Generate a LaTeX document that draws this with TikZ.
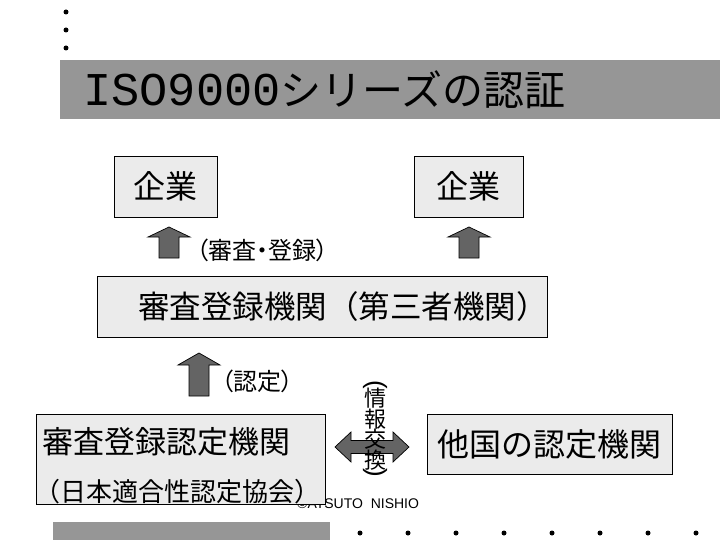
\documentclass[tikz,border=0pt]{standalone}
\usepackage{fontspec}
\setmainfont{Liberation Sans}
\newfontfamily\jp{Noto Sans CJK JP}
\newfontfamily\jpp[RawFeature=+palt]{Noto Sans CJK JP}
\newfontfamily\titlemono{Liberation Mono}
\newcommand\jpsize[1]{\jp\fontsize{#1}{#1}\selectfont}
\newcommand\jppsize[1]{\jpp\fontsize{#1}{#1}\selectfont}
\definecolor{titlegray}{RGB}{150,150,150}
\definecolor{boxgray}{RGB}{235,235,235}
\definecolor{arrowgray}{RGB}{100,100,100}
\tikzset{
  kikanbox/.style={draw, fill=boxgray, line width=0.8pt, inner sep=0pt},
  blockarrow/.style={draw, fill=arrowgray, line width=0.7pt, line join=miter},
  dot/.style={circle, fill=black, inner sep=0pt, minimum size=5pt},
  txt/.style={inner sep=0pt, anchor=west},
}
\begin{document}
\begin{tikzpicture}[x=1pt, y=-1pt]
\useasboundingbox (0,0) rectangle (720,540);

% title bar
\foreach \y in {12,30,48}
  \node[dot] (topdot\y) at (66,\y) {};
\fill[titlegray] (60,60) rectangle (720,119);
\node[txt] (title) at (83,90) {\titlemono\fontsize{47pt}{47pt}\selectfont ISO9000\jpsize{41pt}シリーズの認証};

% companies
\node[kikanbox, minimum width=103pt, minimum height=61pt, font=\jpsize{32pt}] (kigyoA) at (165.5,186.5) {企業};
\node[kikanbox, minimum width=109pt, minimum height=61pt, font=\jpsize{32pt}] (kigyoB) at (468.5,186.5) {企業};

\draw[blockarrow] (159,258) -- (159,237) -- (148,237) -- (169,227) -- (190,237) -- (179,237) -- (179,258) -- cycle;
\draw[blockarrow] (459,258) -- (459,237) -- (448,237) -- (469,227) -- (490,237) -- (479,237) -- (479,258) -- cycle;
\node[txt, font=\jppsize{24pt}] (shinsatoroku) at (196,250) {（審査・登録）};

% registrar
\node[kikanbox, minimum width=450pt, minimum height=61pt] (shinsa) at (322,306.5) {};
\node[txt, font=\jpsize{31.5pt}] (shinsaname) at (138,307) {審査登録機関（第三者機関）};

\draw[blockarrow] (189,396) -- (189,365) -- (178,365) -- (199,353) -- (220,365) -- (209,365) -- (209,396) -- cycle;
\node[txt, font=\jppsize{24pt}] (nintei) at (221,381) {（認定）};

% accreditation bodies
\node[txt, font=\fontsize{14pt}{14pt}\selectfont] (copy) at (297,504) {©ATSUTO\ \ NISHIO};
\node[kikanbox, minimum width=289pt, minimum height=90pt] (jab) at (180.5,459) {};
\node[txt, font=\jpsize{31pt}] (jabname) at (42,442) {審査登録認定機関};
\node[txt, font=\jpsize{26pt}] (jabsub) at (34,492) {（日本適合性認定協会）};

\node[kikanbox, minimum width=245pt, minimum height=60pt, font=\jpsize{32pt}] (takoku) at (549.5,444) {他国の認定機関};

\draw[blockarrow] (335,447) -- (351,432) -- (351,440.5) -- (393,440.5) -- (393,432) -- (409,447) -- (393,462) -- (393,453.5) -- (351,453.5) -- (351,462) -- cycle;
\node[inner sep=0pt, font=\fontsize{26pt}{26pt}\selectfont, rotate=-90] (johoL) at (375,385) {(};
\node[align=center, inner sep=0pt, font=\jp\fontsize{22pt}{20.5pt}\selectfont] (joho) at (375,429) {情\\報\\交\\換};
\node[inner sep=0pt, font=\fontsize{26pt}{26pt}\selectfont, rotate=-90] (johoR) at (375,473) {)};

% bottom bar
\fill[titlegray] (53,522) rectangle (330,540);
\foreach \x in {360,408,...,696}
  \node[dot] (botdot\x) at (\x,533) {};
\end{tikzpicture}
\end{document}
